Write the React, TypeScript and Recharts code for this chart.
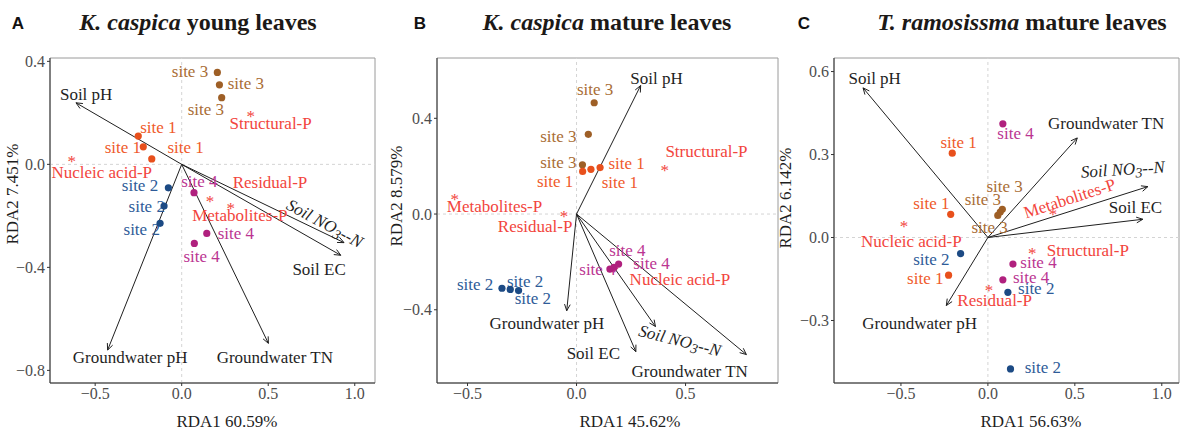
import React from 'react'
import { ScatterChart, Scatter, XAxis, YAxis, ReferenceLine, ReferenceArea } from 'recharts'

const SERIF = '"Liberation Serif", "Times New Roman", Times, serif'
const SANS = '"Liberation Sans", Arial, sans-serif'

const siteDot: Record<number, string> = { 1: '#E8501C', 2: '#1C4A84', 3: '#9E5F26', 4: '#B0207E' }
const siteText: Record<number, string> = { 1: '#EF5A2B', 2: '#2E5B98', 3: '#A96D35', 4: '#BB3592' }
const P_RED = '#F2453D'
const INK = '#1f1f1f'

// ---- A: K. caspica young leaves ----
const sitesA = [
  { site: 3, x: 0.206, y: 0.357, lx: 0.048, ly: 0.36 },
  { site: 3, x: 0.218, y: 0.309, lx: 0.371, ly: 0.315 },
  { site: 3, x: 0.231, y: 0.259, lx: 0.14, ly: 0.214 },
  { site: 1, x: -0.251, y: 0.11, lx: -0.135, ly: 0.144 },
  { site: 1, x: -0.222, y: 0.068, lx: -0.34, ly: 0.066 },
  { site: 1, x: -0.173, y: 0.021, lx: 0.023, ly: 0.066 },
  { site: 2, x: -0.077, y: -0.091, lx: -0.241, ly: -0.084 },
  { site: 2, x: -0.102, y: -0.162, lx: -0.202, ly: -0.165 },
  { site: 2, x: -0.125, y: -0.229, lx: -0.231, ly: -0.252 },
  { site: 4, x: 0.071, y: -0.11, lx: 0.102, ly: -0.068 },
  { site: 4, x: 0.145, y: -0.268, lx: 0.313, ly: -0.268 },
  { site: 4, x: 0.073, y: -0.307, lx: 0.115, ly: -0.356 },
]
const phosA = [
  { name: 'Structural-P', x: 0.399, y: 0.2, lx: 0.514, ly: 0.157 },
  { name: 'Nucleic acid-P', x: -0.636, y: 0.023, lx: -0.462, ly: -0.033 },
  { name: 'Residual-P', x: 0.164, y: -0.132, lx: 0.51, ly: -0.071 },
  { name: 'Metabolites-P', x: 0.283, y: -0.158, lx: 0.336, ly: -0.197 },
]
const envA = [
  { name: 'Soil pH', x: -0.611, y: 0.239, lx: -0.552, ly: 0.273 },
  { name: 'Soil NO3--N', x: 0.938, y: -0.304, lx: 0.827, ly: -0.229 },
  { name: 'Soil EC', x: 0.919, y: -0.353, lx: 0.794, ly: -0.407 },
  { name: 'Groundwater pH', x: -0.428, y: -0.721, lx: -0.298, ly: -0.751 },
  { name: 'Groundwater TN', x: 0.501, y: -0.695, lx: 0.538, ly: -0.751 },
]
const xTicksA = [-0.5, 0, 0.5, 1.0]
const yTicksA = [-0.8, -0.4, 0, 0.4]

// ---- B: K. caspica mature leaves ----
const sitesB = [
  { site: 3, x: 0.081, y: 0.465, lx: 0.085, ly: 0.52 },
  { site: 3, x: 0.054, y: 0.333, lx: -0.083, ly: 0.325 },
  { site: 3, x: 0.027, y: 0.206, lx: -0.083, ly: 0.215 },
  { site: 1, x: 0.028, y: 0.178, lx: -0.098, ly: 0.134 },
  { site: 1, x: 0.066, y: 0.187, lx: 0.199, ly: 0.131 },
  { site: 1, x: 0.108, y: 0.194, lx: 0.23, ly: 0.212 },
  { site: 2, x: -0.342, y: -0.31, lx: -0.465, ly: -0.293 },
  { site: 2, x: -0.304, y: -0.315, lx: -0.236, ly: -0.283 },
  { site: 2, x: -0.266, y: -0.32, lx: -0.2, ly: -0.355 },
  { site: 4, x: 0.153, y: -0.23, lx: 0.096, ly: -0.23 },
  { site: 4, x: 0.172, y: -0.223, lx: 0.344, ly: -0.205 },
  { site: 4, x: 0.193, y: -0.209, lx: 0.233, ly: -0.154 },
]
const phosB = [
  { name: 'Structural-P', x: 0.405, y: 0.196, lx: 0.596, ly: 0.263 },
  { name: 'Metabolites-P', x: -0.559, y: 0.075, lx: -0.376, ly: 0.031 },
  { name: 'Residual-P', x: -0.057, y: 0.003, lx: -0.19, ly: -0.054 },
  { name: 'Nucleic acid-P', x: 0.176, y: -0.219, lx: 0.474, ly: -0.275 },
]
const envB = [
  { name: 'Soil pH', x: 0.294, y: 0.537, lx: 0.367, ly: 0.565 },
  { name: 'Groundwater pH', x: -0.045, y: -0.404, lx: -0.136, ly: -0.456 },
  { name: 'Soil EC', x: 0.272, y: -0.575, lx: 0.077, ly: -0.581 },
  { name: 'Soil NO3--N', x: 0.362, y: -0.47, lx: 0.474, ly: -0.529 },
  { name: 'Groundwater TN', x: 0.779, y: -0.587, lx: 0.519, ly: -0.658 },
]
const xTicksB = [-0.5, 0, 0.5]
const yTicksB = [-0.4, 0, 0.4]

// ---- C: T. ramosissma mature leaves ----
const sitesC = [
  { site: 4, x: 0.086, y: 0.411, lx: 0.159, ly: 0.375 },
  { site: 1, x: -0.205, y: 0.305, lx: -0.168, ly: 0.345 },
  { site: 3, x: 0.057, y: 0.08, lx: 0.01, ly: 0.036 },
  { site: 3, x: 0.071, y: 0.092, lx: -0.029, ly: 0.138 },
  { site: 3, x: 0.083, y: 0.102, lx: 0.096, ly: 0.186 },
  { site: 1, x: -0.214, y: 0.084, lx: -0.325, ly: 0.124 },
  { site: 2, x: -0.157, y: -0.058, lx: -0.325, ly: -0.078 },
  { site: 1, x: -0.226, y: -0.136, lx: -0.36, ly: -0.148 },
  { site: 4, x: 0.144, y: -0.096, lx: 0.291, ly: -0.09 },
  { site: 4, x: 0.086, y: -0.153, lx: 0.249, ly: -0.144 },
  { site: 2, x: 0.115, y: -0.198, lx: 0.278, ly: -0.186 },
  { site: 2, x: 0.13, y: -0.475, lx: 0.316, ly: -0.471 },
]
const phosC = [
  { name: 'Metabolites-P', x: 0.374, y: 0.096, lx: 0.47, ly: 0.141 },
  { name: 'Nucleic acid-P', x: -0.483, y: 0.054, lx: -0.44, ly: -0.014 },
  { name: 'Structural-P', x: 0.255, y: -0.045, lx: 0.575, ly: -0.046 },
  { name: 'Residual-P', x: 0.006, y: -0.18, lx: 0.039, ly: -0.228 },
]
const envC = [
  { name: 'Soil pH', x: -0.718, y: 0.541, lx: -0.651, ly: 0.574 },
  { name: 'Groundwater TN', x: 0.514, y: 0.36, lx: 0.68, ly: 0.411 },
  { name: 'Soil NO3--N', x: 0.92, y: 0.184, lx: 0.776, ly: 0.246 },
  { name: 'Soil EC', x: 0.891, y: 0.066, lx: 0.849, ly: 0.108 },
  { name: 'Groundwater pH', x: -0.239, y: -0.246, lx: -0.393, ly: -0.31 },
]
const xTicksC = [-0.5, 0, 0.5, 1.0]
const yTicksC = [-0.3, 0, 0.3, 0.6]

// label tilt (degrees), keyed by label text
const tiltA: Record<string, number> = { 'Soil NO3--N': 28 }
const tiltB: Record<string, number> = { 'Soil NO3--N': 14 }
const tiltC: Record<string, number> = { 'Soil NO3--N': -4, 'Metabolites-P': -18 }

const fmt = (v: number) => v.toFixed(1).replace('-', '\u2212')

function arrow(props: any) {
  const { x1, y1, x2, y2 } = props
  const a = Math.atan2(y2 - y1, x2 - x1)
  const len = 7
  const s = 0.42
  const h1 = `${x2 - len * Math.cos(a - s)},${y2 - len * Math.sin(a - s)}`
  const h2 = `${x2 - len * Math.cos(a + s)},${y2 - len * Math.sin(a + s)}`
  return (
    <g stroke={INK} strokeWidth={1} fill="none">
      <line x1={x1} y1={y1} x2={x2} y2={y2} />
      <polyline points={`${h1} ${x2},${y2} ${h2}`} />
    </g>
  )
}

function labelText(tilt: Record<string, number>) {
  return (props: any) => {
    const { cx, cy, payload } = props
    const rot = tilt[payload.text] || 0
    const isNO3 = payload.text === 'Soil NO3--N'
    return (
      <text
        x={cx}
        y={cy}
        textAnchor="middle"
        dominantBaseline="central"
        fontFamily={SERIF}
        fontSize={17}
        fontStyle={isNO3 ? 'italic' : 'normal'}
        fill={payload.color}
        transform={rot ? `rotate(${rot} ${cx} ${cy})` : undefined}
      >
        {isNO3 ? (
          <>
            Soil NO<tspan dy={4} fontSize={14}>3</tspan>
            <tspan dy={-4}>--N</tspan>
          </>
        ) : (
          payload.text
        )}
      </text>
    )
  }
}

const dot = (props: any) => (
  <circle cx={props.cx} cy={props.cy} r={3.6} fill={siteDot[props.payload.site]} />
)

const star = (props: any) => (
  <text x={props.cx} y={props.cy + 9} textAnchor="middle" fontFamily={SERIF} fontSize={17} fill={P_RED}>
    *
  </text>
)

type Site = { site: number; x: number; y: number; lx: number; ly: number }
type Named = { name: string; x: number; y: number; lx: number; ly: number }

function Biplot(p: {
  sites: Site[]
  phos: Named[]
  env: Named[]
  tilt: Record<string, number>
  xDomain: [number, number]
  yDomain: [number, number]
  xTicks: number[]
  yTicks: number[]
  width: number
  yAxisWidth: number
  right: number
}) {
  const labels = [
    ...p.sites.map((s) => ({ x: s.lx, y: s.ly, text: `site ${s.site}`, color: siteText[s.site] })),
    ...p.phos.map((s) => ({ x: s.lx, y: s.ly, text: s.name, color: P_RED })),
    ...p.env.map((s) => ({ x: s.lx, y: s.ly, text: s.name, color: INK })),
  ]
  const tick = { fill: '#4d4d4d', fontSize: 16, fontFamily: SERIF }
  return (
    <ScatterChart width={p.width} height={430} margin={{ top: 58, right: p.right, bottom: 17, left: 0 }}>
      <XAxis
        type="number"
        dataKey="x"
        domain={p.xDomain}
        ticks={p.xTicks}
        allowDataOverflow
        height={30}
        tick={tick}
        tickFormatter={fmt}
        tickSize={3}
        tickMargin={2}
        axisLine={{ stroke: '#333' }}
        tickLine={{ stroke: '#333' }}
      />
      <YAxis
        type="number"
        dataKey="y"
        domain={p.yDomain}
        ticks={p.yTicks}
        allowDataOverflow
        width={p.yAxisWidth}
        tick={tick}
        tickFormatter={fmt}
        tickSize={3}
        tickMargin={2}
        axisLine={{ stroke: '#333' }}
        tickLine={{ stroke: '#333' }}
      />
      <ReferenceArea
        x1={p.xDomain[0]}
        x2={p.xDomain[1]}
        y1={p.yDomain[0]}
        y2={p.yDomain[1]}
        fill="none"
        stroke="#9a9a9a"
        strokeWidth={1}
      />
      <ReferenceLine x={0} stroke="#d4d4d4" strokeDasharray="3 3" />
      <ReferenceLine y={0} stroke="#d4d4d4" strokeDasharray="3 3" />
      {p.env.map((e) => (
        <ReferenceLine
          key={e.name}
          segment={[
            { x: 0, y: 0 },
            { x: e.x, y: e.y },
          ]}
          shape={arrow}
        />
      ))}
      <Scatter data={labels} shape={labelText(p.tilt)} isAnimationActive={false} />
      <Scatter data={p.phos} shape={star} isAnimationActive={false} />
      <Scatter data={p.sites} shape={dot} isAnimationActive={false} />
    </ScatterChart>
  )
}

function Title({ x, italic, rest }: { x: number; italic: string; rest: string }) {
  return (
    <text x={x} y={30} textAnchor="middle" fontFamily={SERIF} fontWeight="bold" fontSize={24} fill="#1c1917">
      <tspan fontStyle="italic">{italic}</tspan>
      {rest}
    </text>
  )
}

export default function App() {
  const axisTitle = { fontFamily: SERIF, fontSize: 17, fill: INK, textAnchor: 'middle' as const }
  const letter = { fontFamily: SANS, fontWeight: 'bold' as const, fontSize: 17, fill: '#111', textAnchor: 'middle' as const }
  return (
    <div style={{ position: 'absolute', left: 0, top: 0, width: 1182, height: 430, background: '#fff' }}>
      <div style={{ position: 'absolute', left: 0, top: 0 }}>
        <Biplot sites={sitesA} phos={phosA} env={envA} tilt={tiltA} xDomain={[-0.761, 1.117]} yDomain={[-0.849, 0.413]}
          xTicks={xTicksA} yTicks={yTicksA} width={390} yAxisWidth={50} right={15} />
      </div>
      <div style={{ position: 'absolute', left: 390, top: 0 }}>
        <Biplot sites={sitesB} phos={phosB} env={envB} tilt={tiltB} xDomain={[-0.64, 0.924]} yDomain={[-0.706, 0.652]}
          xTicks={xTicksB} yTicks={yTicksB} width={400} yAxisWidth={47} right={12} />
      </div>
      <div style={{ position: 'absolute', left: 780, top: 0 }}>
        <Biplot sites={sitesC} phos={phosC} env={envC} tilt={tiltC} xDomain={[-0.885, 1.099]} yDomain={[-0.526, 0.649]}
          xTicks={xTicksC} yTicks={yTicksC} width={402} yAxisWidth={54} right={3} />
      </div>
      <svg width={1182} height={430} style={{ position: 'absolute', left: 0, top: 0, pointerEvents: 'none' }}>
        <text x={18} y={29} {...letter}>A</text>
        <text x={420} y={29} {...letter}>B</text>
        <text x={804} y={29} {...letter}>C</text>
        <Title x={198} italic="K. caspica" rest=" young leaves" />
        <Title x={607} italic="K. caspica" rest=" mature leaves" />
        <Title x={1022} italic="T. ramosissma" rest=" mature leaves" />
        <text x={227} y={427} {...axisTitle}>RDA1 60.59%</text>
        <text x={630} y={427} {...axisTitle}>RDA1 45.62%</text>
        <text x={1031} y={427} {...axisTitle}>RDA1 56.63%</text>
        <text transform="translate(18,194) rotate(-90)" {...axisTitle}>RDA2 7.451%</text>
        <text transform="translate(402,196) rotate(-90)" {...axisTitle}>RDA2 8.579%</text>
        <text transform="translate(791,198) rotate(-90)" {...axisTitle}>RDA2 6.142%</text>
      </svg>
    </div>
  )
}
